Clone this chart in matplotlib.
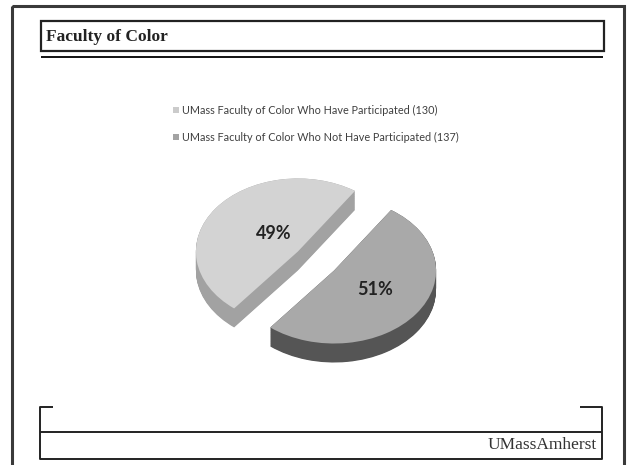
import matplotlib
matplotlib.use("Agg")
import matplotlib.pyplot as plt
from matplotlib.patches import Rectangle
import numpy as np

# ---- data ----
categories = ["UMass Faculty of Color Who Have Participated (130)",
              "UMass Faculty of Color Who Not Have Participated (137)"]
counts = [130, 137]
pct_labels = ["49%", "51%"]
title = "Faculty of Color"
footer = "UMassAmherst"

# ---- styles ----
top_colors = ["#d3d3d3", "#a9a9a9"]
side_colors = ["#a2a2a2", "#555555"]
legend_colors = ["#cbcbcb", "#a3a3a3"]

W, H = 632, 465
fig = plt.figure(figsize=(W / 100, H / 100), dpi=100)
bg = fig.add_axes([0, 0, 1, 1])
bg.set_xlim(0, W)
bg.set_ylim(H, 0)
bg.axis("off")

# slide frame
bg.add_patch(Rectangle((12, 6), 612, 480, fill=False, lw=2.2, ec="#3a3a3a"))
bg.add_patch(Rectangle((41, 21), 563, 30, fill=False, lw=1.6, ec="#222222"))
bg.plot([41, 603], [57, 57], color="#111111", lw=1.4, solid_capstyle="butt")
bg.text(46, 37, title, family="Liberation Serif", fontweight="bold",
        fontsize=12.5, va="center", ha="left", color="#222222")

# bottom bracket
bk = dict(color="#222222", lw=1.4, solid_capstyle="butt")
bg.plot([53, 40, 40, 602, 602, 580], [407, 407, 459, 459, 407, 407], **bk)
bg.plot([40, 602], [432, 432], **bk)
bg.text(597, 445, footer, family="Liberation Serif", fontsize=12.5,
        va="center", ha="right", color="#333333")

# legend
for i, (lab, col) in enumerate(zip(categories, legend_colors)):
    y = 110 + 27 * i
    bg.scatter([175.5], [y], marker="s", s=24, color=col, linewidths=0)
    bg.text(182, y, lab, family="Lato", fontsize=7.8, va="center", ha="left",
            color="#404040")

# ---- 3D-ish pie ----
px_x, px_y = 102.0, 73.0          # pixels per unit
cx, cy = 316, 261                 # pie centre in pixels
aw, ah = 300, 240                 # axes size in pixels
ax = fig.add_axes([(cx - aw / 2) / W, (H - cy - ah / 2) / H, aw / W, ah / H])
start = 56
explode = [0.22, 0.22]
depth = 19 / px_y
nlayers = 30
for d in np.linspace(depth, 0.0, nlayers):
    ax.pie(counts, explode=explode, startangle=start, colors=side_colors,
           center=(0, -d), radius=1, frame=True,
           wedgeprops=dict(linewidth=0))
wedges, _ = ax.pie(counts, explode=explode, startangle=start, colors=top_colors,
                   center=(0, 0), radius=1, frame=True,
                   wedgeprops=dict(linewidth=0))
ax.set_xlim(-aw / 2 / px_x, aw / 2 / px_x)
ax.set_ylim(-ah / 2 / px_y, ah / 2 / px_y)
ax.set_aspect("auto")
ax.axis("off")

label_r = [0.56, 0.70]
label_dtheta = [-6.7, 2.3]
for w, lab, r, dt in zip(wedges, pct_labels, label_r, label_dtheta):
    a = np.deg2rad((w.theta1 + w.theta2) / 2 + dt)
    ax.text(r * np.cos(a), r * np.sin(a), lab, family="Lato", fontweight="bold",
            fontsize=13, ha="center", va="center", color="#222222")

fig.savefig("out.png", dpi=100)
